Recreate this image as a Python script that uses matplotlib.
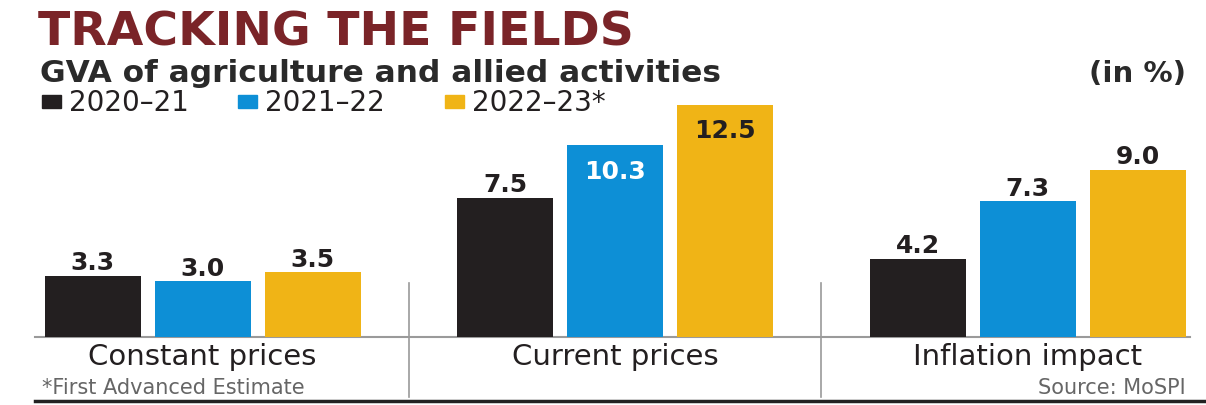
import matplotlib
matplotlib.use("Agg")
import matplotlib.pyplot as plt
import numpy as np

categories = ["Constant prices", "Current prices", "Inflation impact"]
series_names = ["2020–21", "2021–22", "2022–23*"]
v2020 = [3.3, 7.5, 4.2]
v2021 = [3.0, 10.3, 7.3]
v2022 = [3.5, 12.5, 9.0]
value_labels = [["3.3", "7.5", "4.2"], ["3.0", "10.3", "7.3"], ["3.5", "12.5", "9.0"]]
# label placement: True = inside bar near the top
inside = [[False, False, False], [False, True, False], [False, True, False]]
inside_color = [["#231f20"] * 3, ["#231f20", "white", "#231f20"], ["#231f20"] * 3]
colors = ["#231f20", "#0d8fd6", "#f0b416"]

W, H = 1206, 406
fig = plt.figure(figsize=(W / 100, H / 100), dpi=100)
fig.patch.set_facecolor("white")
FONT = "DejaVu Sans"

base_px = 338
px_per_unit = 18.6
ytop = 13.5
ax = fig.add_axes([0, (H - base_px) / H, 1, ytop * px_per_unit / H])
spacing = 412.5
c0 = 202.5
ax.set_xlim(-c0 / spacing, (W - c0) / spacing)
ax.set_ylim(0, ytop)
ax.axis("off")

x = np.arange(len(categories))
width = 96 / spacing
off = 110 / spacing
for i, (vals, col) in enumerate(zip([v2020, v2021, v2022], colors)):
    pos = x + (i - 1) * off
    ax.bar(pos, vals, width=width, color=col, zorder=3)
    for j, (p, v, lab) in enumerate(zip(pos, vals, value_labels[i])):
        if inside[i][j]:
            ax.text(p, v - 1.35, lab, ha="center", va="center", fontsize=18,
                    fontweight="bold", color=inside_color[i][j], family=FONT, zorder=4)
        else:
            ax.text(p, v + 0.72, lab, ha="center", va="center", fontsize=18,
                    fontweight="bold", color="#231f20", family=FONT, zorder=4)

# baseline
ax.plot([(35 - c0) / spacing, (1190 - c0) / spacing], [0, 0],
        color="#9a9a9a", lw=1.5, zorder=2, clip_on=False)

# dividers (figure coords)
for d in [0.5, 1.5]:
    xpx = c0 + d * spacing
    fig.add_artist(plt.Line2D([xpx / W, xpx / W], [1 - 284 / H, 1 - 398 / H],
                              color="#9a9a9a", lw=1.2))

# category labels
for xi, cat in zip(x, categories):
    xpx = c0 + xi * spacing
    fig.text(xpx / W, 1 - 357 / H, cat, ha="center", va="center", fontsize=21,
             color="#231f20", family=FONT)

# title, subtitle
fig.text(38 / W, 1 - 33 / H, "TRACKING THE FIELDS", ha="left", va="center",
         fontsize=34, fontweight="bold", color="#7a2428", family=FONT)
fig.text(40 / W, 1 - 74 / H, "GVA of agriculture and allied activities", ha="left",
         va="center", fontsize=22.5, fontweight="bold", color="#2a2a2a", family=FONT)
fig.text(1186 / W, 1 - 74 / H, "(in %)", ha="right", va="center", fontsize=21,
         fontweight="bold", color="#2a2a2a", family=FONT)

# legend
leg_x = [42, 238, 445]
for lx, name, col in zip(leg_x, series_names, colors):
    fig.add_artist(plt.Rectangle((lx / W, 1 - 109 / H), 19 / W, 13 / H,
                                 color=col, transform=fig.transFigure))
    fig.text((lx + 27) / W, 1 - 103 / H, name, ha="left", va="center",
             fontsize=20, color="#231f20", family=FONT)

# footnotes
fig.text(42 / W, 1 - 388 / H, "*First Advanced Estimate", ha="left", va="center",
         fontsize=15, color="#666666", family=FONT)
fig.text(1186 / W, 1 - 388 / H, "Source: MoSPI", ha="right", va="center",
         fontsize=15, color="#666666", family=FONT)
fig.add_artist(plt.Line2D([35 / W, 1.0], [1 - 402 / H, 1 - 402 / H],
                          color="#222222", lw=2.5))

fig.savefig("out.png", dpi=100, facecolor="white")
